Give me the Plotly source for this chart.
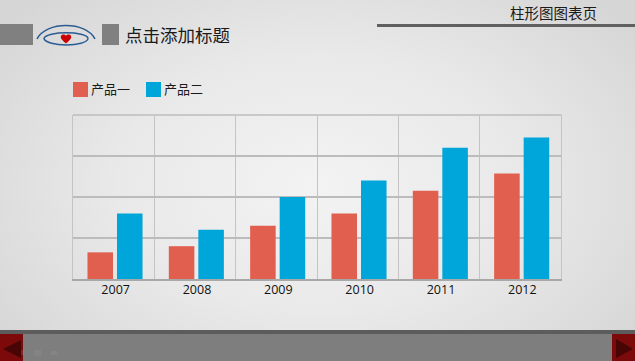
import urllib.parse
import plotly.graph_objects as go

years = ["2007", "2008", "2009", "2010", "2011", "2012"]
product_one = [13, 16, 26, 32, 43, 51.5]
product_two = [32, 24, 40, 48, 64, 69]
name_one = "产品一"
name_two = "产品二"
color_one = "#e05f4f"
color_two = "#00a5da"
y_ticks = [0, 20, 40, 60, 80]
title_text = "点击添加标题"
page_text = "柱形图图表页"

W, H = 635, 361
L, R, T, B = 73, 561, 115, 279
CJK = "Noto Sans CJK SC"

bg_svg = (
    f'<svg xmlns="http://www.w3.org/2000/svg" width="{W}" height="{H}" viewBox="0 0 {W} {H}">'
    '<defs><radialGradient id="g" gradientUnits="userSpaceOnUse" cx="0" cy="0" r="1" '
    'gradientTransform="translate(318 185) scale(400 260)">'
    '<stop offset="0" stop-color="#f3f3f3"/><stop offset="0.5" stop-color="#e9e9e9"/>'
    '<stop offset="1" stop-color="#d6d6d6"/></radialGradient></defs>'
    f'<rect width="{W}" height="{H}" fill="url(#g)"/></svg>'
)
bg_uri = "data:image/svg+xml;charset=utf-8," + urllib.parse.quote(bg_svg)


def fx(x):
    return (x - L) / (R - L)


def fy(y):
    return (B - y) / (B - T)


def path_of(pts):
    return "M " + " L ".join(f"{fx(x):.5f},{fy(y):.5f}" for x, y in pts) + " Z"


def rect(x0, y0, x1, y1, color, layer="above"):
    return dict(type="path", xref="paper", yref="paper",
                path=path_of([(x0, y0), (x1, y0), (x1, y1), (x0, y1)]),
                fillcolor=color, line=dict(width=0), layer=layer)


def curve(d, color, width, fill=None):
    out = []
    for c in d:
        if isinstance(c, str):
            out.append(c)
        else:
            out.append(f"{fx(c[0]):.5f},{fy(c[1]):.5f}")
    return dict(type="path", xref="paper", yref="paper", path=" ".join(out),
                line=dict(color=color, width=width) if width else dict(width=0),
                fillcolor=fill if fill else "rgba(0,0,0,0)", layer="above")


shapes = [
    rect(0, 24, 33, 45, "#808080"),
    rect(102, 24, 119, 45, "#808080"),
    rect(377, 24, 635, 27, "#606060"),
    rect(0, 330, 635, 334, "#5c5c5c"),
    rect(0, 334, 635, 361, "#7e7e7e"),
    rect(0, 334, 23, 361, "#7c0a0a"),
    rect(612, 334, 635, 361, "#7c0a0a"),
    dict(type="path", xref="paper", yref="paper", path=path_of([(21, 340), (21, 358), (3, 349)]),
         fillcolor="#470505", line=dict(width=0), layer="above"),
    dict(type="path", xref="paper", yref="paper", path=path_of([(616, 339), (616, 358), (633, 349)]),
         fillcolor="#470505", line=dict(width=0), layer="above"),
    rect(21, 350, 24, 355, "rgba(160,160,160,0.18)"),
    rect(34, 350, 41, 356, "rgba(160,160,160,0.2)"),
    rect(51, 351, 57, 355, "rgba(160,160,160,0.2)"),
    curve(["M", (37, 39), "C", (46, 21), (86, 21), (95, 39)], "#2a5c94", 1.5),
    curve(["M", (44, 38.5), "C", (46, 31), (87, 31), (88, 38.5), "C", (87, 47), (46, 47), (44, 38.5), "Z"], "#2a5c94", 1.5),
    curve(["M", (66, 43.5), "C", (62, 40), (60, 38), (61, 36), "C", (62, 34), (65, 34), (66, 36),
           "C", (67, 34), (70, 34), (71, 36), "C", (72, 38), (70, 40), (66, 43.5), "Z"], None, 0, "#cc0000"),
    rect(73, 82, 88, 97, color_one),
    rect(146, 82, 161, 97, color_two),
    rect(73, 114.2, 561.5, 115.8, "#bdbdbd", "below"),
]

annotations = [
    dict(text=title_text, xref="paper", yref="paper", x=fx(122.5), y=fy(34.5), xanchor="left", yanchor="middle",
         showarrow=False, font=dict(family=CJK, size=17.5, color="#1a1a1a")),
    dict(text=page_text, xref="paper", yref="paper", x=fx(553.5), y=fy(13), xanchor="center", yanchor="middle",
         showarrow=False, font=dict(family=CJK, size=14.5, color="#1a1a1a")),
    dict(text=name_one, xref="paper", yref="paper", x=fx(89), y=fy(88.5), xanchor="left", yanchor="middle",
         showarrow=False, font=dict(family=CJK, size=13, color="#1a1a1a")),
    dict(text=name_two, xref="paper", yref="paper", x=fx(162), y=fy(88.5), xanchor="left", yanchor="middle",
         showarrow=False, font=dict(family=CJK, size=13, color="#1a1a1a")),
]

fig = go.Figure()
fig.add_bar(x=years, y=product_one, name=name_one, width=0.314, offset=-0.322,
            marker=dict(color=color_one, line=dict(width=0)))
fig.add_bar(x=years, y=product_two, name=name_two, width=0.314, offset=0.041,
            marker=dict(color=color_two, line=dict(width=0)))

fig.update_layout(
    width=W, height=H, autosize=False,
    margin=dict(l=L, r=W - R, t=T, b=H - B, pad=0),
    paper_bgcolor="#e8e8e8", plot_bgcolor="rgba(0,0,0,0)",
    barmode="overlay",
    font=dict(family="Open Sans", size=12, color="#111111"),
    showlegend=False,
    xaxis=dict(type="category", tickson="boundaries", showgrid=True, gridcolor="#c4c4c4", gridwidth=1,
               showline=True, linecolor="#a8a8a8", linewidth=1.5, ticks="", ticklabelshift=2, ticklabelstandoff=-2,
               tickfont=dict(size=12.5, color="#111111")),
    yaxis=dict(range=[0, 80], tickvals=y_ticks, showticklabels=False, showgrid=True, gridcolor="#bcbcbc", gridwidth=1.5,
               zeroline=False, showline=True, mirror=True, linecolor="#c4c4c4", linewidth=1, ticks=""),
    images=[dict(source=bg_uri, xref="paper", yref="paper", x=fx(0), y=fy(0), sizex=W / (R - L), sizey=H / (B - T),
                 xanchor="left", yanchor="top", sizing="stretch", layer="below")],
    shapes=shapes,
    annotations=annotations,
)

fig.write_html("out.html", config={"displayModeBar": False},
               post_script="document.body.style.margin='0';document.documentElement.style.overflow='hidden';")
